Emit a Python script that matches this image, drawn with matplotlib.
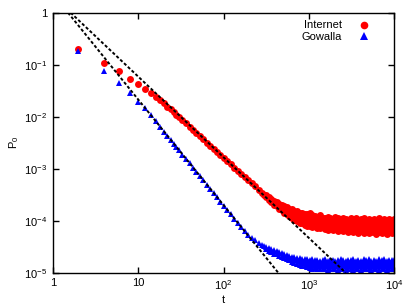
import matplotlib
matplotlib.use("Agg")
import matplotlib.pyplot as plt
from matplotlib.ticker import FixedLocator, FixedFormatter, NullLocator
from matplotlib.lines import Line2D

plt.rcParams['font.family'] = ['Liberation Sans', 'DejaVu Sans']
plt.rcParams['mathtext.fontset'] = 'custom'
plt.rcParams['mathtext.rm'] = 'Liberation Sans'
plt.rcParams['mathtext.it'] = 'Liberation Sans:italic'
plt.rcParams['mathtext.bf'] = 'Liberation Sans:bold'

# ---- data ----
t_main = [2, 4, 6, 8, 10, 12, 14, 16, 18, 20, 22, 24, 26, 28, 30, 33, 36, 40, 44, 48,
          53, 58, 64, 70, 77, 84, 92, 101, 111, 122, 134, 147, 161, 177, 194, 213, 234,
          257, 282, 300]
internet_main = [0.20, 0.11, 0.074, 0.054, 0.042, 0.034, 0.028, 0.0235, 0.0212, 0.0182,
                 0.0157, 0.0138, 0.01225, 0.01096, 0.00989, 0.00857, 0.00753, 0.00643,
                 0.00557, 0.00490, 0.00422, 0.00369, 0.00318, 0.00279, 0.00242, 0.00212,
                 0.00185, 0.00161, 0.00140, 0.00121, 0.00105, 9.18e-4, 8.02e-4, 6.95e-4,
                 6.05e-4, 5.27e-4, 4.58e-4, 3.98e-4, 3.46e-4, 3.16e-4]
gowalla_main = [0.18, 0.076, 0.045, 0.029, 0.0195, 0.0145, 0.01067, 0.00815, 0.00641,
                0.00518, 0.00427, 0.00357, 0.00304, 0.00261, 0.00228, 0.00187, 0.00157,
                0.00127, 0.00105, 8.76e-4, 7.16e-4, 5.96e-4, 4.88e-4, 4.07e-4, 3.35e-4,
                2.81e-4, 2.34e-4, 1.93e-4, 1.60e-4, 1.32e-4, 1.09e-4, 9.02e-5, 7.41e-5,
                6.31e-5, 5.37e-5, 4.68e-5, 4.17e-5, 3.80e-5, 3.47e-5, 3.24e-5]

# noisy tail: upper and lower edges of the scattered band
t_tail = [316, 340, 364, 390, 418, 448, 480, 514, 550, 590, 632, 676, 724, 776, 832, 892,
          956, 1024, 1096, 1176, 1260, 1350, 1446, 1550, 1660, 1778, 1906, 2042, 2188,
          2344, 2512, 2692, 2884, 3090, 3312, 3548, 3802, 4074, 4366, 4678, 5012, 5370,
          5754, 6166, 6608, 7080, 7586, 8128, 8710, 9334, 10000]
internet_tail_hi = [3.09e-4, 2.82e-4, 2.63e-4, 2.40e-4, 2.29e-4, 2.14e-4, 2.04e-4, 1.91e-4,
                    1.82e-4, 1.70e-4, 1.66e-4, 1.55e-4, 1.51e-4, 1.41e-4, 1.41e-4, 1.32e-4,
                    1.35e-4, 1.41e-4, 1.29e-4, 1.23e-4, 1.20e-4, 1.26e-4, 1.15e-4, 1.12e-4,
                    1.20e-4, 1.15e-4, 1.10e-4, 1.17e-4, 1.12e-4, 1.07e-4, 1.15e-4, 1.10e-4,
                    1.05e-4, 1.12e-4, 1.07e-4, 1.12e-4, 1.02e-4, 1.07e-4, 1.12e-4, 1.05e-4,
                    1.10e-4, 1.00e-4, 1.07e-4, 1.05e-4, 1.12e-4, 1.02e-4, 1.07e-4, 1.00e-4,
                    1.10e-4, 1.05e-4, 1.07e-4]
internet_tail_lo = [2.82e-4, 2.51e-4, 2.29e-4, 2.04e-4, 1.91e-4, 1.70e-4, 1.58e-4, 1.41e-4,
                    1.35e-4, 1.23e-4, 1.12e-4, 1.05e-4, 1.00e-4, 9.12e-5, 8.91e-5, 8.13e-5,
                    7.94e-5, 7.76e-5, 7.59e-5, 7.94e-5, 7.24e-5, 7.08e-5, 7.59e-5, 6.92e-5,
                    6.76e-5, 7.24e-5, 6.61e-5, 6.92e-5, 6.46e-5, 6.76e-5, 6.31e-5, 6.61e-5,
                    6.17e-5, 6.46e-5, 6.03e-5, 6.46e-5, 5.89e-5, 6.31e-5, 5.89e-5, 6.17e-5,
                    5.75e-5, 6.17e-5, 6.03e-5, 5.62e-5, 6.17e-5, 5.75e-5, 6.03e-5, 5.62e-5,
                    6.03e-5, 5.89e-5, 6.17e-5]
gowalla_tail_hi = [3.16e-5, 3.02e-5, 2.88e-5, 2.75e-5, 2.63e-5, 2.51e-5, 2.40e-5, 2.29e-5,
                   2.19e-5, 2.14e-5, 2.04e-5, 2.00e-5, 1.95e-5, 1.91e-5, 1.86e-5, 1.82e-5,
                   1.86e-5, 1.78e-5, 1.82e-5, 1.74e-5, 1.78e-5, 1.70e-5, 1.74e-5, 1.82e-5,
                   1.70e-5, 1.74e-5, 1.78e-5, 1.70e-5, 1.74e-5, 1.82e-5, 1.74e-5, 1.70e-5,
                   1.78e-5, 1.74e-5, 1.82e-5, 1.70e-5, 1.78e-5, 1.70e-5, 1.82e-5, 1.74e-5,
                   1.82e-5, 1.70e-5, 1.78e-5, 1.70e-5, 1.82e-5, 1.74e-5, 1.82e-5, 1.70e-5,
                   1.78e-5, 1.74e-5, 1.78e-5]
gowalla_tail_lo = [2.82e-5, 2.63e-5, 2.51e-5, 2.34e-5, 2.24e-5, 2.14e-5, 2.00e-5, 1.91e-5,
                   1.82e-5, 1.74e-5, 1.62e-5, 1.55e-5, 1.48e-5, 1.41e-5, 1.35e-5, 1.32e-5,
                   1.26e-5, 1.23e-5, 1.20e-5, 1.23e-5, 1.17e-5, 1.20e-5, 1.17e-5, 1.20e-5,
                   1.15e-5, 1.20e-5, 1.17e-5, 1.20e-5, 1.15e-5, 1.17e-5, 1.20e-5, 1.15e-5,
                   1.17e-5, 1.20e-5, 1.15e-5, 1.17e-5, 1.20e-5, 1.15e-5, 1.17e-5, 1.20e-5,
                   1.17e-5, 1.15e-5, 1.20e-5, 1.17e-5, 1.15e-5, 1.20e-5, 1.17e-5, 1.15e-5,
                   1.20e-5, 1.17e-5, 1.20e-5]

# dashed power-law guide lines (end points)
internet_fit_t = [1.62, 2692]
internet_fit_p = [1.0, 1e-5]
gowalla_fit_t = [1.51, 437]
gowalla_fit_p = [1.0, 1e-5]

x_ticks = [1, 10, 100, 1000, 10000]
x_ticklabels = ['1', '10', '$10^{2}$', '$10^{3}$', '$10^{4}$']
y_ticks = [1e-5, 1e-4, 1e-3, 1e-2, 1e-1, 1]
y_ticklabels = ['$10^{-5}$', '$10^{-4}$', '$10^{-3}$', '$10^{-2}$', '$10^{-1}$', '1']

# ---- figure ----
fig = plt.figure(figsize=(4.09, 3.08), dpi=100)
ax = fig.add_axes([0.1289, 0.1146, 0.8352, 0.8442])
ax.set_xscale('log')
ax.set_yscale('log')
ax.set_xlim(1, 1e4)
ax.set_ylim(1e-5, 1)

ms = 5
red = '#ff0000'
blue = '#0000ff'

# Internet
ax.fill_between(t_tail, internet_tail_lo, internet_tail_hi, color=red, lw=0, zorder=2)
ax.plot(t_tail, internet_tail_hi, 'o', color=red, ms=ms, mew=0, zorder=2)
ax.plot(t_tail, internet_tail_lo, 'o', color=red, ms=ms, mew=0, zorder=2)
ax.plot(t_main, internet_main, 'o', color=red, ms=ms, mew=0, zorder=2)

# Gowalla
ax.fill_between(t_tail, gowalla_tail_lo, gowalla_tail_hi, color=blue, lw=0, zorder=2)
ax.plot(t_tail, gowalla_tail_hi, '^', color=blue, ms=ms, mew=0, zorder=2)
ax.plot(t_tail, gowalla_tail_lo, '^', color=blue, ms=ms, mew=0, zorder=2)
ax.plot(t_main, gowalla_main, '^', color=blue, ms=ms, mew=0, zorder=2)

# guide lines
ax.plot(internet_fit_t, internet_fit_p, color='black', lw=1.4, dashes=(1.6, 1.1), zorder=3)
ax.plot(gowalla_fit_t, gowalla_fit_p, color='black', lw=1.4, dashes=(1.6, 1.1), zorder=3)

# axes styling
for s in ax.spines.values():
    s.set_linewidth(1.0)
    s.set_color('black')
    s.set_zorder(4)
ax.xaxis.set_major_locator(FixedLocator(x_ticks))
ax.xaxis.set_major_formatter(FixedFormatter(x_ticklabels))
ax.yaxis.set_major_locator(FixedLocator(y_ticks))
ax.yaxis.set_major_formatter(FixedFormatter(y_ticklabels))
ax.xaxis.set_minor_locator(NullLocator())
ax.yaxis.set_minor_locator(NullLocator())
ax.tick_params(which='major', direction='in', length=4, width=1, top=True, right=True,
               labelsize=8, pad=4)

ax.set_xlabel('t', fontsize=8, labelpad=2)
ax.set_ylabel('P$_0$', fontsize=8, labelpad=2)

handles = [Line2D([], [], ls='none', marker='o', color=red, ms=5.5, mew=0),
           Line2D([], [], ls='none', marker='^', color=blue, ms=5.5, mew=0)]
ax.legend(handles, ['Internet', 'Gowalla'], loc='upper right',
          bbox_to_anchor=(0.935, 0.97), markerfirst=False, frameon=False,
          borderpad=0, borderaxespad=0, handlelength=1.5, handletextpad=1.2,
          labelspacing=0.15, fontsize=8)

fig.savefig('out.png', dpi=100)
